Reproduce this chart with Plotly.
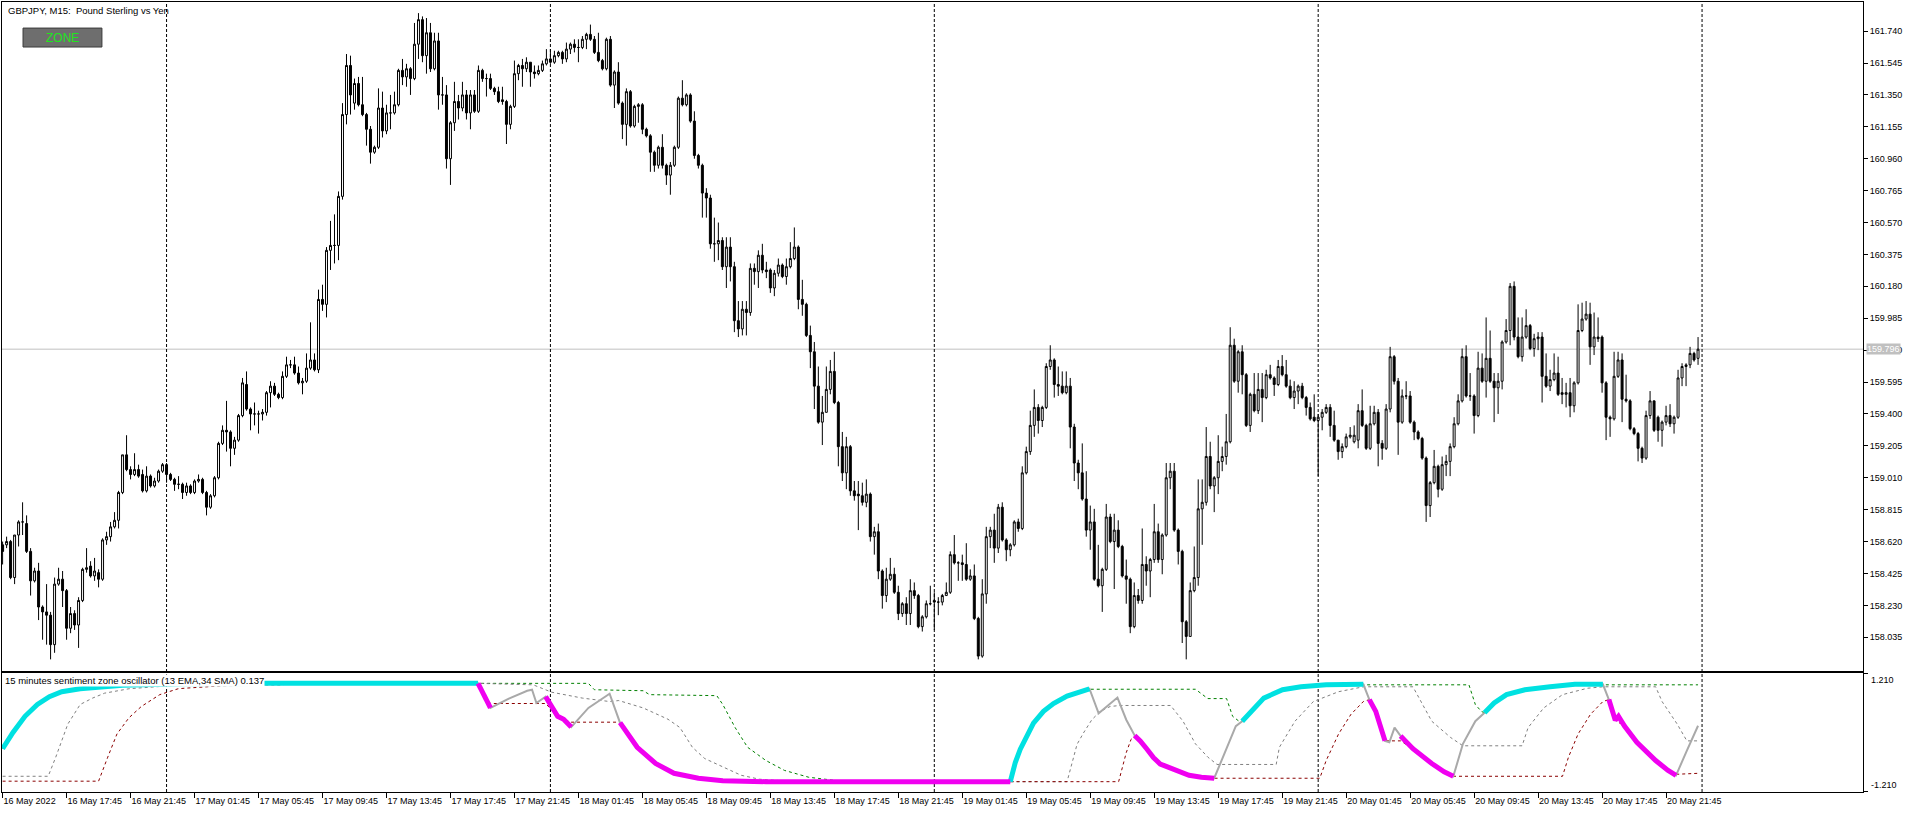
import pandas as pd
import plotly.graph_objects as go

# GBPJPY M15 bars, first bar 16 May 2022 13:45
FIRST_BAR = "2022-05-16 13:45"

open_ = [
    158.60, 158.60, 158.62, 158.40, 158.66, 158.74, 158.73, 158.56, 158.38, 158.44,
    158.22, 158.19, 158.17, 157.99, 158.36, 158.39, 158.32, 158.09, 158.18, 158.11,
    158.26, 158.45, 158.47, 158.41, 158.43, 158.39, 158.63, 158.65, 158.71, 158.75,
    158.92, 159.15, 159.06, 159.03, 159.06, 159.03, 158.93, 159.02, 158.96, 158.99,
    159.05, 159.09, 159.03, 159.00, 158.97, 158.97, 158.92, 158.96, 158.92, 158.99,
    159.00, 158.92, 158.83, 158.90, 159.01, 159.22, 159.30, 159.29, 159.19, 159.24,
    159.39, 159.58, 159.43, 159.40, 159.40, 159.40, 159.41, 159.53, 159.57, 159.52,
    159.50, 159.63, 159.70, 159.70, 159.65, 159.59, 159.60, 159.68, 159.73, 159.67,
    160.10, 160.07, 160.40, 160.43, 160.43, 160.73, 161.23, 161.53, 161.30, 161.42,
    161.29, 161.23, 161.14, 161.00, 161.03, 161.27, 161.13, 161.24, 161.24, 161.29,
    161.50, 161.46, 161.51, 161.45, 161.66, 161.81, 161.59, 161.73, 161.51, 161.68,
    161.35, 161.35, 160.96, 161.18, 161.31, 161.27, 161.35, 161.24, 161.35, 161.25,
    161.50, 161.45, 161.45, 161.39, 161.37, 161.32, 161.31, 161.17, 161.28, 161.48,
    161.53, 161.51, 161.55, 161.49, 161.48, 161.50, 161.54, 161.57, 161.55, 161.59,
    161.61, 161.57, 161.63, 161.66, 161.64, 161.64, 161.69, 161.72, 161.69, 161.61,
    161.56, 161.51, 161.69, 161.41, 161.49, 161.30, 161.17, 161.37, 161.16, 161.28,
    161.29, 161.14, 161.10, 161.00, 160.92, 161.03, 160.92, 160.86, 160.92, 161.03,
    161.33, 161.29, 161.35, 161.19, 160.98, 160.92, 160.75, 160.72, 160.44, 160.44,
    160.46, 160.30, 160.42, 160.30, 159.97, 159.92, 160.04, 160.02, 160.29, 160.27,
    160.37, 160.28, 160.28, 160.17, 160.26, 160.31, 160.24, 160.30, 160.35, 160.42,
    160.10, 160.07, 159.88, 159.78, 159.57, 159.35, 159.41, 159.55, 159.66, 159.47,
    159.20, 159.04, 159.20, 158.93, 158.91, 158.90, 158.86, 158.91, 158.65, 158.68,
    158.44, 158.29, 158.39, 158.42, 158.31, 158.18, 158.24, 158.18, 158.32, 158.29,
    158.10, 158.16, 158.24, 158.26, 158.25, 158.25, 158.29, 158.31, 158.54, 158.49,
    158.49, 158.48, 158.39, 158.41, 158.15, 157.92, 158.30, 158.65, 158.69, 158.58,
    158.83, 158.63, 158.57, 158.60, 158.74, 158.70, 159.04, 159.17, 159.33, 159.44,
    159.36, 159.44, 159.69, 159.73, 159.58, 159.57, 159.53, 159.57, 159.32, 159.10,
    159.04, 158.88, 158.69, 158.74, 158.39, 158.35, 158.45, 158.77, 158.62, 158.69,
    158.59, 158.41, 158.39, 158.10, 158.29, 158.26, 158.48, 158.44, 158.51, 158.68,
    158.51, 158.66, 159.01, 159.05, 158.69, 158.56, 158.13, 158.04, 158.32, 158.40,
    158.82, 158.86, 159.14, 158.96, 159.01, 159.11, 159.14, 159.23, 159.82, 159.60,
    159.78, 159.64, 159.33, 159.52, 159.42, 159.55, 159.50, 159.64, 159.62, 159.58,
    159.69, 159.64, 159.57, 159.50, 159.54, 159.57, 159.50, 159.44, 159.38, 159.36,
    159.38, 159.41, 159.44, 159.33, 159.24, 159.17, 159.20, 159.26, 159.23, 159.24,
    159.42, 159.33, 159.19, 159.34, 159.41, 159.22, 159.19, 159.43, 159.75, 159.60,
    159.35, 159.51, 159.51, 159.35, 159.29, 159.25, 159.13, 158.84, 158.98, 159.08,
    158.94, 159.09, 159.11, 159.20, 159.34, 159.48, 159.75, 159.51, 159.51, 159.39,
    159.68, 159.60, 159.74, 159.60, 159.56, 159.60, 159.84, 159.91, 160.18, 159.87,
    159.75, 159.87, 159.94, 159.80, 159.86, 159.87, 159.63, 159.57, 159.61, 159.65,
    159.53, 159.52, 159.53, 159.45, 159.59, 159.91, 159.98, 160.01, 159.81, 159.87,
    159.87, 159.59, 159.38, 159.37, 159.63, 159.73, 159.49, 159.48, 159.31, 159.28,
    159.19, 159.13, 159.39, 159.48, 159.38, 159.30, 159.35, 159.39, 159.34, 159.38,
    159.62, 159.69, 159.70, 159.77, 159.74,
]

high = [
    158.62, 158.65, 158.63, 158.66, 158.75, 158.86, 158.78, 158.58, 158.46, 158.49,
    158.23, 158.36, 158.19, 158.40, 158.46, 158.44, 158.33, 158.22, 158.20, 158.28,
    158.46, 158.58, 158.50, 158.52, 158.45, 158.64, 158.68, 158.74, 158.80, 158.93,
    159.15, 159.27, 159.08, 159.16, 159.09, 159.06, 159.08, 159.03, 159.01, 159.06,
    159.10, 159.10, 159.04, 159.01, 159.02, 158.98, 158.98, 158.97, 159.00, 159.03,
    159.01, 158.93, 158.91, 159.02, 159.23, 159.33, 159.48, 159.30, 159.26, 159.40,
    159.62, 159.66, 159.44, 159.47, 159.42, 159.43, 159.54, 159.60, 159.59, 159.53,
    159.66, 159.75, 159.73, 159.75, 159.69, 159.62, 159.77, 159.96, 159.77, 160.16,
    160.19, 160.42, 160.58, 160.62, 160.76, 161.30, 161.60, 161.59, 161.45, 161.46,
    161.46, 161.24, 161.16, 161.04, 161.39, 161.37, 161.29, 161.35, 161.37, 161.51,
    161.57, 161.54, 161.52, 161.79, 161.85, 161.83, 161.82, 161.79, 161.73, 161.73,
    161.46, 161.41, 161.19, 161.43, 161.35, 161.43, 161.38, 161.38, 161.38, 161.53,
    161.51, 161.48, 161.48, 161.40, 161.40, 161.40, 161.32, 161.29, 161.56, 161.54,
    161.57, 161.58, 161.55, 161.53, 161.53, 161.56, 161.63, 161.63, 161.62, 161.62,
    161.62, 161.67, 161.67, 161.69, 161.69, 161.71, 161.73, 161.78, 161.71, 161.73,
    161.57, 161.70, 161.71, 161.50, 161.55, 161.31, 161.39, 161.38, 161.29, 161.30,
    161.30, 161.15, 161.11, 161.01, 161.04, 161.11, 160.93, 160.94, 161.04, 161.34,
    161.44, 161.36, 161.36, 161.25, 160.99, 160.93, 160.78, 160.74, 160.60, 160.57,
    160.48, 160.48, 160.48, 160.33, 160.09, 160.09, 160.09, 160.32, 160.32, 160.40,
    160.44, 160.33, 160.29, 160.28, 160.35, 160.32, 160.35, 160.45, 160.54, 160.43,
    160.22, 160.08, 159.94, 159.84, 159.69, 159.51, 159.69, 159.73, 159.78, 159.48,
    159.29, 159.26, 159.21, 158.99, 158.99, 158.98, 159.00, 158.92, 158.71, 158.73,
    158.45, 158.46, 158.52, 158.46, 158.35, 158.25, 158.28, 158.39, 158.37, 158.30,
    158.17, 158.26, 158.35, 158.31, 158.28, 158.30, 158.37, 158.56, 158.66, 158.50,
    158.54, 158.61, 158.45, 158.48, 158.16, 158.39, 158.71, 158.71, 158.79, 158.85,
    158.86, 158.64, 158.61, 158.75, 158.76, 159.08, 159.20, 159.42, 159.55, 159.46,
    159.45, 159.71, 159.82, 159.74, 159.69, 159.66, 159.66, 159.62, 159.34, 159.12,
    159.22, 159.05, 158.84, 158.82, 158.60, 158.46, 158.85, 158.79, 158.79, 158.75,
    158.60, 158.51, 158.40, 158.37, 158.33, 158.70, 158.53, 158.52, 158.85, 158.73,
    158.67, 159.10, 159.10, 159.10, 158.70, 158.57, 158.14, 158.37, 158.59, 159.00,
    159.00, 159.32, 159.23, 159.02, 159.27, 159.20, 159.40, 159.93, 159.86, 159.79,
    159.82, 159.65, 159.53, 159.65, 159.65, 159.65, 159.67, 159.70, 159.63, 159.73,
    159.76, 159.73, 159.61, 159.60, 159.58, 159.59, 159.51, 159.47, 159.52, 159.40,
    159.43, 159.46, 159.46, 159.42, 159.24, 159.22, 159.28, 159.32, 159.33, 159.46,
    159.55, 159.34, 159.45, 159.45, 159.43, 159.24, 159.46, 159.81, 159.76, 159.62,
    159.55, 159.60, 159.54, 159.36, 159.30, 159.26, 159.14, 158.99, 159.18, 159.09,
    159.14, 159.15, 159.22, 159.38, 159.52, 159.80, 159.82, 159.65, 159.52, 159.78,
    159.77, 159.99, 159.91, 159.65, 159.65, 159.85, 159.98, 160.20, 160.21, 159.99,
    159.99, 160.04, 159.95, 159.89, 159.90, 159.90, 159.77, 159.67, 159.77, 159.75,
    159.62, 159.59, 159.62, 159.60, 160.07, 160.08, 160.09, 160.08, 160.02, 159.99,
    159.88, 159.60, 159.39, 159.78, 159.78, 159.77, 159.64, 159.49, 159.32, 159.29,
    159.20, 159.42, 159.54, 159.48, 159.39, 159.36, 159.45, 159.46, 159.39, 159.67,
    159.71, 159.71, 159.81, 159.78, 159.87,
]

low = [
    158.48, 158.58, 158.39, 158.36, 158.59, 158.66, 158.55, 158.29, 158.37, 158.14,
    158.02, 157.99, 157.90, 157.94, 158.35, 158.22, 158.02, 158.06, 158.08, 157.97,
    158.25, 158.43, 158.40, 158.38, 158.34, 158.38, 158.60, 158.62, 158.70, 158.70,
    158.91, 159.05, 159.00, 159.02, 159.01, 158.92, 158.92, 158.95, 158.95, 158.98,
    159.04, 158.98, 158.99, 158.93, 158.94, 158.88, 158.90, 158.91, 158.91, 158.98,
    158.91, 158.78, 158.82, 158.89, 159.00, 159.21, 159.17, 159.08, 159.15, 159.23,
    159.38, 159.42, 159.30, 159.33, 159.28, 159.36, 159.39, 159.44, 159.51, 159.49,
    159.49, 159.62, 159.68, 159.64, 159.58, 159.52, 159.59, 159.67, 159.66, 159.65,
    160.03, 159.99, 160.28, 160.32, 160.34, 160.71, 161.17, 161.23, 161.26, 161.28,
    161.22, 161.04, 160.93, 160.99, 161.02, 161.09, 161.11, 161.14, 161.23, 161.28,
    161.41, 161.40, 161.35, 161.44, 161.57, 161.55, 161.48, 161.49, 161.50, 161.26,
    161.29, 160.90, 160.80, 161.13, 161.20, 161.25, 161.20, 161.14, 161.24, 161.24,
    161.43, 161.34, 161.38, 161.35, 161.30, 161.29, 161.05, 161.14, 161.27, 161.44,
    161.40, 161.49, 161.40, 161.45, 161.47, 161.49, 161.53, 161.54, 161.54, 161.58,
    161.54, 161.55, 161.60, 161.61, 161.55, 161.63, 161.63, 161.68, 161.60, 161.55,
    161.50, 161.50, 161.40, 161.27, 161.29, 161.08, 161.04, 161.15, 161.15, 161.18,
    161.11, 161.09, 160.88, 160.88, 160.90, 160.90, 160.80, 160.74, 160.91, 161.02,
    161.28, 161.28, 161.18, 160.96, 160.90, 160.60, 160.60, 160.41, 160.33, 160.34,
    160.28, 160.17, 160.21, 159.90, 159.87, 159.88, 159.88, 160.00, 160.19, 160.17,
    160.26, 160.23, 160.14, 160.12, 160.24, 160.23, 160.19, 160.29, 160.34, 160.04,
    160.00, 159.87, 159.68, 159.43, 159.34, 159.21, 159.41, 159.52, 159.46, 159.08,
    158.99, 158.94, 158.90, 158.87, 158.69, 158.84, 158.83, 158.62, 158.54, 158.39,
    158.21, 158.25, 158.38, 158.30, 158.14, 158.16, 158.11, 158.11, 158.27, 158.09,
    158.07, 158.15, 158.23, 158.08, 158.17, 158.23, 158.29, 158.30, 158.48, 158.38,
    158.38, 158.38, 158.38, 158.14, 157.90, 157.91, 158.24, 158.58, 158.49, 158.55,
    158.62, 158.50, 158.53, 158.59, 158.68, 158.69, 159.03, 159.15, 159.26, 159.28,
    159.32, 159.43, 159.67, 159.50, 159.51, 159.52, 159.52, 159.19, 158.99, 158.94,
    158.87, 158.65, 158.57, 158.38, 158.34, 158.19, 158.44, 158.61, 158.33, 158.58,
    158.40, 158.24, 158.06, 158.09, 158.24, 158.24, 158.35, 158.28, 158.49, 158.49,
    158.42, 158.65, 158.94, 158.68, 158.48, 158.00, 157.90, 158.04, 158.31, 158.35,
    158.60, 158.84, 158.94, 158.80, 158.91, 159.05, 159.09, 159.22, 159.59, 159.53,
    159.52, 159.32, 159.29, 159.41, 159.40, 159.35, 159.49, 159.61, 159.51, 159.57,
    159.63, 159.56, 159.49, 159.43, 159.46, 159.49, 159.39, 159.36, 159.35, 159.02,
    159.30, 159.40, 159.26, 159.23, 159.12, 159.13, 159.19, 159.25, 159.22, 159.19,
    159.32, 159.18, 159.18, 159.33, 159.08, 159.12, 159.18, 159.41, 159.58, 159.15,
    159.34, 159.49, 159.34, 159.24, 159.24, 159.12, 158.74, 158.77, 158.97, 158.89,
    158.93, 159.02, 159.02, 159.19, 159.33, 159.47, 159.50, 159.48, 159.28, 159.38,
    159.59, 159.50, 159.59, 159.35, 159.40, 159.55, 159.83, 159.82, 159.85, 159.74,
    159.72, 159.86, 159.79, 159.75, 159.79, 159.47, 159.56, 159.54, 159.60, 159.51,
    159.46, 159.44, 159.38, 159.41, 159.58, 159.90, 159.97, 159.70, 159.76, 159.84,
    159.53, 159.24, 159.26, 159.36, 159.62, 159.35, 159.47, 159.30, 159.27, 159.11,
    159.10, 159.12, 159.37, 159.29, 159.23, 159.20, 159.33, 159.32, 159.28, 159.37,
    159.57, 159.57, 159.68, 159.72, 159.70,
]

close = [
    158.56, 158.62, 158.40, 158.66, 158.74, 158.74, 158.56, 158.38, 158.44, 158.22,
    158.19, 158.17, 157.99, 158.36, 158.39, 158.32, 158.09, 158.18, 158.11, 158.26,
    158.45, 158.46, 158.41, 158.44, 158.39, 158.63, 158.65, 158.71, 158.75, 158.92,
    159.15, 159.06, 159.03, 159.06, 159.02, 158.93, 159.02, 158.96, 158.99, 159.05,
    159.09, 159.03, 159.00, 158.97, 158.97, 158.92, 158.96, 158.92, 158.99, 159.00,
    158.92, 158.83, 158.90, 159.01, 159.22, 159.30, 159.29, 159.19, 159.24, 159.39,
    159.59, 159.43, 159.40, 159.40, 159.40, 159.41, 159.53, 159.57, 159.52, 159.50,
    159.63, 159.70, 159.70, 159.65, 159.59, 159.60, 159.68, 159.73, 159.67, 160.10,
    160.07, 160.40, 160.43, 160.43, 160.73, 161.23, 161.53, 161.35, 161.42, 161.29,
    161.23, 161.14, 161.00, 161.03, 161.27, 161.13, 161.24, 161.24, 161.29, 161.50,
    161.46, 161.51, 161.45, 161.66, 161.81, 161.59, 161.73, 161.51, 161.68, 161.35,
    161.35, 160.96, 161.18, 161.31, 161.27, 161.35, 161.24, 161.35, 161.25, 161.50,
    161.45, 161.45, 161.39, 161.37, 161.31, 161.31, 161.17, 161.28, 161.48, 161.53,
    161.51, 161.55, 161.49, 161.48, 161.50, 161.54, 161.57, 161.55, 161.59, 161.61,
    161.57, 161.63, 161.66, 161.64, 161.64, 161.69, 161.72, 161.69, 161.61, 161.56,
    161.51, 161.69, 161.41, 161.49, 161.30, 161.17, 161.37, 161.16, 161.28, 161.29,
    161.14, 161.10, 161.00, 160.92, 161.03, 160.92, 160.86, 160.92, 161.03, 161.33,
    161.29, 161.35, 161.19, 160.98, 160.92, 160.75, 160.72, 160.44, 160.44, 160.46,
    160.30, 160.42, 160.30, 159.97, 159.92, 160.04, 160.02, 160.29, 160.27, 160.37,
    160.28, 160.27, 160.17, 160.26, 160.31, 160.24, 160.30, 160.35, 160.42, 160.10,
    160.07, 159.88, 159.78, 159.57, 159.35, 159.41, 159.55, 159.66, 159.47, 159.20,
    159.04, 159.20, 158.93, 158.90, 158.90, 158.86, 158.91, 158.65, 158.68, 158.44,
    158.29, 158.39, 158.42, 158.31, 158.18, 158.24, 158.18, 158.32, 158.29, 158.10,
    158.16, 158.24, 158.24, 158.25, 158.25, 158.29, 158.31, 158.54, 158.49, 158.49,
    158.48, 158.39, 158.41, 158.15, 157.92, 158.30, 158.65, 158.69, 158.58, 158.83,
    158.63, 158.57, 158.60, 158.74, 158.70, 159.04, 159.17, 159.33, 159.44, 159.36,
    159.44, 159.69, 159.73, 159.58, 159.57, 159.53, 159.57, 159.32, 159.10, 159.04,
    158.88, 158.69, 158.74, 158.39, 158.35, 158.45, 158.77, 158.62, 158.69, 158.59,
    158.41, 158.39, 158.10, 158.29, 158.26, 158.48, 158.44, 158.51, 158.68, 158.51,
    158.66, 159.01, 159.05, 158.69, 158.56, 158.13, 158.04, 158.32, 158.40, 158.82,
    158.86, 159.14, 158.96, 159.01, 159.11, 159.14, 159.23, 159.82, 159.60, 159.78,
    159.64, 159.33, 159.52, 159.42, 159.55, 159.50, 159.64, 159.62, 159.58, 159.69,
    159.64, 159.57, 159.50, 159.54, 159.57, 159.50, 159.44, 159.37, 159.36, 159.38,
    159.41, 159.44, 159.33, 159.24, 159.17, 159.20, 159.26, 159.27, 159.27, 159.42,
    159.33, 159.19, 159.34, 159.41, 159.22, 159.19, 159.43, 159.75, 159.60, 159.35,
    159.51, 159.51, 159.35, 159.29, 159.25, 159.13, 158.84, 158.98, 159.08, 158.94,
    159.09, 159.11, 159.20, 159.34, 159.48, 159.75, 159.51, 159.51, 159.39, 159.68,
    159.60, 159.74, 159.60, 159.56, 159.60, 159.84, 159.91, 160.18, 159.87, 159.75,
    159.87, 159.94, 159.80, 159.86, 159.87, 159.63, 159.57, 159.61, 159.65, 159.52,
    159.52, 159.53, 159.45, 159.59, 159.91, 159.98, 160.01, 159.81, 159.87, 159.86,
    159.59, 159.38, 159.37, 159.63, 159.73, 159.49, 159.48, 159.31, 159.28, 159.19,
    159.13, 159.39, 159.48, 159.30, 159.30, 159.35, 159.39, 159.34, 159.38, 159.62,
    159.69, 159.70, 159.77, 159.73, 159.796,
]

# oscillator: bar position, value, zone (u = upper zone, d = lower zone, n = none)
osc_bar = [0, 2.6, 5.6, 8.7, 11.7, 14.8, 19.4, 30, 45, 65.3, 118.9, 118.9, 120.4, 122, 122,
           126.6, 131.2, 132.4, 133.5, 135.8, 135.8, 138.8, 140.3, 142.2, 142.2, 146.5, 151.8,
           154.4, 154.4, 158.7, 163.3, 167.9, 174, 180.1, 190.9, 252, 252, 253.25, 254.5, 256.2,
           257.8, 260.3, 262.8, 266.2, 269.5, 271.8, 271.8, 274.1, 276.2, 278.8, 281, 283.1,
           283.1, 284.5, 286.2, 287.8, 289.5, 292.1, 296.7, 299.8, 303, 303, 306.1, 308.4, 310,
           310, 312.3, 315.4, 320.1, 324.7, 331, 340.3, 340.3, 341.8, 341.8, 343.4, 345.7, 345.7,
           346.8, 348.1, 349.6, 349.6, 352.7, 357.4, 360.5, 362.8, 362.8, 365.2, 368.3, 370.6,
           370.6, 373, 376.1, 380.7, 387, 393.2, 400.2, 400.2, 401.7, 401.7, 402.5, 403.3, 404.1,
           405.6, 408.7, 413.4, 416.5, 418.5, 418.5, 421.2, 424]
osc_val = [-0.33, 0.0, 0.33, 0.57, 0.73, 0.83, 0.89, 0.96, 0.99, 1.0, 1.0, 1.0, 0.77, 0.50, 0.50,
           0.69, 0.85, 0.87, 0.60, 0.73, 0.73, 0.33, 0.27, 0.11, 0.11, 0.50, 0.79,
           0.20, 0.20, -0.30, -0.63, -0.83, -0.93, -0.98, -1.0, -1.0, -1.0, -0.61, -0.34, -0.04,
           0.19, 0.43, 0.59, 0.74, 0.83, 0.89, 0.89, 0.39, 0.53, 0.71, 0.26, -0.06,
           -0.06, -0.17, -0.34, -0.51, -0.64, -0.73, -0.87, -0.91, -0.93, -0.93, -0.30, 0.13, 0.23,
           0.23, 0.43, 0.70, 0.87, 0.93, 0.97, 0.98, 0.98, 0.67, 0.67, 0.43, -0.17, -0.17,
           -0.20, 0.10, -0.07, -0.07, -0.33, -0.63, -0.80, -0.89, -0.89, -0.23, 0.23, 0.40,
           0.40, 0.60, 0.77, 0.87, 0.93, 0.98, 0.98, 0.98, 0.67, 0.67, 0.43, 0.25, 0.33,
           0.13, -0.20, -0.57, -0.77, -0.87, -0.87, -0.37, 0.137]
osc_zone = ("uuuuuuuuuuu ddd nnnnnn dddd nnnn dddddddd uuuuuuuuuu nnnnnn ddddddddd nnnn "
            "uuuuuuu nn ddd nnnn ddddd nnnn uuuuuuu nn ddddddddd nnn").replace(" ", "")

# upper zone level (green)
up_bar = [0, 2.6, 5.6, 8.7, 11.7, 14.8, 19.4, 30, 45, 65.3, 146.5, 148, 160.2, 161.8, 178.6,
          180.1, 183.2, 186.3, 190.9, 195.5, 201.6, 207.7, 210.8, 252, 253.25, 254.5, 256.2,
          257.8, 260.3, 262.8, 266.2, 269.5, 271.8, 298.3, 301.4, 306.1, 307.6, 309.2, 310,
          312.3, 315.4, 320.1, 324.7, 331, 340.3, 366.7, 368.3, 369.8, 370.6, 373, 376.1, 380.7,
          387, 393.2, 400.2, 424]
up_val = [-0.33, 0.0, 0.33, 0.57, 0.73, 0.83, 0.89, 0.96, 0.99, 1.0, 1.0, 0.87, 0.85, 0.77, 0.75,
          0.57, 0.10, -0.30, -0.57, -0.77, -0.91, -0.97, -1.0, -1.0, -0.61, -0.34, -0.04,
          0.19, 0.43, 0.59, 0.74, 0.83, 0.88, 0.88, 0.69, 0.69, 0.33, 0.23, 0.23,
          0.43, 0.70, 0.87, 0.93, 0.97, 0.97, 0.97, 0.57, 0.43, 0.40, 0.60, 0.77, 0.87,
          0.93, 0.97, 0.97, 0.97]

# middle level (grey dotted)
mid_bar = [0, 11.4, 13.3, 16.3, 19.4, 22.5, 25.5, 31.6, 45, 65, 119, 132.7, 137.3, 145, 151.8,
           154.1, 160.2, 166.4, 169.4, 172.5, 175.6, 180.1, 184.7, 189.3, 194, 198.5, 266.2,
           267.4, 268.7, 270.3, 272.4, 274.5, 277, 279.5, 292.1, 295.2, 298.3, 301.4, 303.7,
           318.5, 319.3, 323.2, 327.8, 334.1, 340.3, 352.7, 354.3, 357.4, 362.1, 365.2, 380,
           381.5, 385.4, 390.1, 396.3, 400.2, 413.4, 415, 418.8, 421.2, 424]
mid_val = [-0.89, -0.89, -0.50, 0.17, 0.57, 0.70, 0.80, 0.89, 0.97, 1.0, 1.0, 0.97, 0.82, 0.70, 0.63,
           0.65, 0.50, 0.27, 0.10, -0.30, -0.53, -0.70, -0.87, -0.95, -0.98, -1.0, -1.0,
           -0.61, -0.24, -0.01, 0.26, 0.43, 0.53, 0.55, 0.55, 0.23, -0.23, -0.50, -0.65,
           -0.65, -0.30, 0.23, 0.63, 0.83, 0.93, 0.93, 0.70, 0.23, -0.10, -0.27, -0.27,
           0.10, 0.50, 0.77, 0.90, 0.93, 0.93, 0.63, 0.17, -0.17, -0.17]

# lower zone level (dark red)
lo_bar = [0, 24, 26.3, 28.6, 31.6, 34.7, 39.3, 43.9, 45.4, 55, 65.3, 69.9, 72, 118.9, 120.4, 122,
          135.8, 138.8, 140.3, 142.2, 154.4, 155, 158.7, 163.3, 167.9, 174, 180.1, 190.9, 279.1,
          279.9, 281, 282.2, 283.1, 284.5, 286.2, 287.8, 289.5, 292.1, 296.7, 299.8, 303, 329.4,
          331, 334.1, 337.2, 340.3, 341.8, 343.4, 345.7, 349.6, 352.7, 357.4, 360.5, 362.8,
          390.1, 391.6, 394, 397.1, 400.2, 401.7, 402.5, 403.3, 405.6, 408.7, 413.4, 416.5,
          418.5, 424]
lo_val = [-0.99, -0.99, -0.50, -0.03, 0.30, 0.53, 0.77, 0.89, 0.90, 0.95, 0.97, 0.97, 1.0, 1.0, 0.77,
          0.59, 0.59, 0.33, 0.27, 0.21, 0.21, 0.17, -0.30, -0.63, -0.83, -0.93, -0.98, -1.0, -1.0,
          -0.74, -0.41, -0.14, -0.07, -0.17, -0.34, -0.51, -0.64, -0.73, -0.87, -0.91, -0.93, -0.93,
          -0.57, -0.03, 0.37, 0.63, 0.67, 0.43, -0.17, -0.17, -0.33, -0.63, -0.80, -0.89,
          -0.89, -0.50, -0.03, 0.37, 0.63, 0.67, 0.43, 0.25, 0.13, -0.20, -0.57, -0.77,
          -0.85, -0.83]

PRICE_TICKS = [158.035, 158.230, 158.425, 158.620, 158.815, 159.010, 159.205, 159.400, 159.595,
               159.790, 159.985, 160.180, 160.375, 160.570, 160.765, 160.960, 161.155, 161.350,
               161.545, 161.740]
OSC_LIMIT = 1.21
BID = 159.796

assert len(open_) == len(high) == len(low) == len(close)
assert len(osc_bar) == len(osc_val) == len(osc_zone)
assert len(up_bar) == len(up_val) and len(mid_bar) == len(mid_val) and len(lo_bar) == len(lo_val)

FONT = "Liberation Sans, Arial, sans-serif"

times = pd.date_range(FIRST_BAR, periods=len(close), freq="15min")
bars = list(range(len(close)))

# x labels every 4 hours, first one shows the date
tick_pos = bars[::16]
tick_txt = [times[0].strftime("%-d %b %Y")] + [times[k].strftime("%-d %b %H:%M") for k in tick_pos[1:]]

# day separators at midnight
separators = [k for k, t in enumerate(times) if t.hour == 0 and t.minute == 0]
next_t = times[-1] + pd.Timedelta(minutes=15)
if next_t.hour == 0 and next_t.minute == 0:
    separators.append(len(times))

fig = go.Figure()

fig.add_trace(go.Candlestick(
    x=bars, open=open_, high=high, low=low, close=close,
    increasing=dict(line=dict(color="black", width=1), fillcolor="white"),
    decreasing=dict(line=dict(color="black", width=1), fillcolor="black"),
    whiskerwidth=0, xaxis="x", yaxis="y", hoverinfo="skip",
))

dotted = "3px,3px"
fig.add_trace(go.Scatter(x=up_bar, y=up_val, mode="lines", xaxis="x2", yaxis="y2",
                         line=dict(color="#008000", width=1, dash=dotted)))
fig.add_trace(go.Scatter(x=mid_bar, y=mid_val, mode="lines", xaxis="x2", yaxis="y2",
                         line=dict(color="#808080", width=1, dash=dotted)))
fig.add_trace(go.Scatter(x=lo_bar, y=lo_val, mode="lines", xaxis="x2", yaxis="y2",
                         line=dict(color="#8b0000", width=1, dash=dotted)))
fig.add_trace(go.Scatter(x=osc_bar, y=osc_val, mode="lines", xaxis="x2", yaxis="y2",
                         line=dict(color="#a9a9a9", width=2)))

for zone, color in (("u", "#00e1e1"), ("d", "#f000f0")):
    ys = [v if z == zone else None for v, z in zip(osc_val, osc_zone)]
    fig.add_trace(go.Scatter(x=osc_bar, y=ys, mode="lines", xaxis="x2", yaxis="y2",
                             connectgaps=False, line=dict(color=color, width=5)))

shapes = [
    dict(type="line", xref="paper", x0=0, x1=1, yref="y", y0=BID, y1=BID,
         line=dict(color="#c0c0c0", width=1), layer="below"),
    # ZONE button
    dict(type="rect", xref="paper", yref="paper", x0=0.0113, x1=0.0537, y0=0.943, y1=0.967,
         fillcolor="#6e6e6e", line=dict(color="#3a3a3a", width=1), layer="above"),
]
for s in separators:
    shapes.append(dict(type="line", xref="x", x0=s, x1=s, yref="paper", y0=0, y1=1,
                       line=dict(color="black", width=1, dash="3px,2px"), layer="below"))

annotations = [
    dict(text="GBPJPY, M15:\u00a0 Pound Sterling vs Yen", xref="paper", yref="paper", x=0, y=1,
         xanchor="left", yanchor="top", xshift=4, yshift=-1, showarrow=False,
         font=dict(family=FONT, size=9.5, color="black")),
    dict(text="ZONE", xref="paper", yref="paper", x=0.0325, y=0.955, xanchor="center",
         yanchor="middle", showarrow=False,
         font=dict(family=FONT, size=12, color="#1ee61e")),
    dict(text="15 minutes sentiment zone oscillator (13 EMA,34 SMA) 0.137", xref="paper",
         yref="y2 domain", x=0, y=1, xanchor="left", yanchor="top", xshift=2, yshift=-1,
         showarrow=False, bgcolor="white", borderpad=0,
         font=dict(family=FONT, size=9.5, color="black")),
    dict(text=f"{BID:.3f}", xref="paper", yref="y", x=1, y=BID, xanchor="left", xshift=3,
         showarrow=False, bgcolor="#c0c0c0", borderpad=0,
         font=dict(family=FONT, size=9, color="white")),
    dict(text=f"{OSC_LIMIT:.3f}", xref="paper", yref="y2", x=1, y=OSC_LIMIT, xanchor="left",
         yanchor="top", xshift=6, showarrow=False, font=dict(family=FONT, size=9, color="black")),
    dict(text=f"{-OSC_LIMIT:.3f}", xref="paper", yref="y2", x=1, y=-OSC_LIMIT, xanchor="left",
         yanchor="bottom", xshift=6, showarrow=False, font=dict(family=FONT, size=9, color="black")),
]

frame = dict(showline=True, mirror=True, linecolor="black", linewidth=1,
             showgrid=False, zeroline=False)

fig.update_layout(
    width=1916, height=813,
    margin=dict(l=2, r=53, t=2, b=21),
    paper_bgcolor="white", plot_bgcolor="white",
    showlegend=False,
    font=dict(family=FONT, size=9, color="black"),
    xaxis=dict(domain=[0, 1], anchor="y", range=[-0.15, 465.25], showticklabels=False,
               ticks="", rangeslider=dict(visible=False), **frame),
    xaxis2=dict(domain=[0, 1], anchor="y2", matches="x", tickvals=tick_pos, ticktext=tick_txt,
                ticks="outside", ticklen=5, tickcolor="black", ticklabelposition="outside right",
                tickfont=dict(family=FONT, size=9), **frame),
    yaxis=dict(domain=[0.1532, 1], anchor="x", side="right", range=[157.829, 161.918],
               tickvals=PRICE_TICKS, ticktext=[f"{p:.3f}" for p in PRICE_TICKS],
               ticks="outside", ticklen=4, tickcolor="black",
               tickfont=dict(family=FONT, size=9), **frame),
    yaxis2=dict(domain=[0, 0.1506], anchor="x2", side="right", range=[-OSC_LIMIT, OSC_LIMIT],
                tickvals=[-OSC_LIMIT, OSC_LIMIT], showticklabels=False,
                ticks="outside", ticklen=4, tickcolor="black", **frame),
    shapes=shapes,
    annotations=annotations,
)

fig.write_html("out.html", config={"displayModeBar": False},
               post_script="document.body.style.margin='0';document.body.style.overflow='hidden';")
